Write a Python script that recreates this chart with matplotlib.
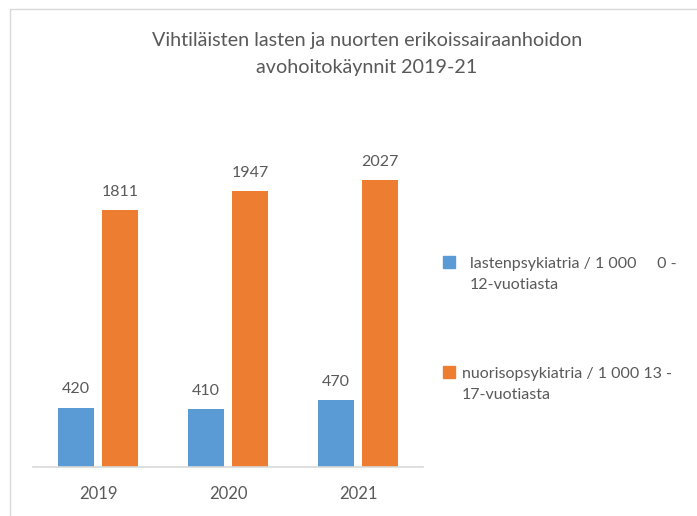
import matplotlib
matplotlib.use("Agg")
import matplotlib.pyplot as plt
from matplotlib.patches import Rectangle
import numpy as np

# Data
vuodet = ["2019", "2020", "2021"]
lastenpsykiatria = [420, 410, 470]
nuorisopsykiatria = [1811, 1947, 2027]
otsikko = "Vihtiläisten lasten ja nuorten erikoissairaanhoidon\navohoitokäynnit 2019-21"
selite_1 = "lastenpsykiatria / 1 000     0 -\n12-vuotiasta"
selite_2 = "nuorisopsykiatria / 1 000 13 -\n17-vuotiasta"

SININEN = "#5B9BD5"
ORANSSI = "#ED7D31"
HARMAA = "#595959"

plt.rcParams['font.family'] = ['Lato', 'DejaVu Sans']

W, H = 697, 516
fig = plt.figure(figsize=(W / 100, H / 100), dpi=100)

# kehys (vaalea reunaviiva ylhäällä ja vasemmalla)
fig.patches.append(Rectangle((10 / W, -0.1), 1.2, 1.1 - 9 / H, transform=fig.transFigure,
                             fill=False, edgecolor="#d9d9d9", linewidth=1))

ax = fig.add_axes([33 / W, 49 / H, 390 / W, 318 / H])
x = np.arange(len(vuodet))
leveys = 0.27
siirto = 0.169

pylvaat1 = ax.bar(x - siirto, lastenpsykiatria, leveys, color=SININEN)
pylvaat2 = ax.bar(x + siirto, nuorisopsykiatria, leveys, color=ORANSSI)

for pylvaat in (pylvaat1, pylvaat2):
    ax.bar_label(pylvaat, padding=8, fontsize=11.5, color=HARMAA)

ax.set_xlim(-0.5, 2.5)
ax.set_ylim(0, 2245)
ax.set_xticks(x)
ax.set_xticklabels(vuodet, fontsize=12, color=HARMAA)
ax.tick_params(axis='x', length=0, pad=14)
ax.set_yticks([])
for s in ("top", "right", "left"):
    ax.spines[s].set_visible(False)
ax.spines["bottom"].set_color("#d9d9d9")
ax.spines["bottom"].set_linewidth(1.2)

fig.text(367 / W, 1 - 54 / H, otsikko, ha="center", va="center", fontsize=14.2,
         color=HARMAA, linespacing=1.7)

# selite
fig.patches.append(Rectangle((443 / W, 1 - 268 / H), 12 / W, 12 / H,
                             transform=fig.transFigure, color=SININEN))
fig.text(470 / W, 1 - 257 / H, selite_1, ha="left", va="top", fontsize=11.5,
         color=HARMAA, linespacing=1.65, transform=fig.transFigure)
fig.patches.append(Rectangle((443 / W, 1 - 378 / H), 12 / W, 12 / H,
                             transform=fig.transFigure, color=ORANSSI))
fig.text(462 / W, 1 - 367 / H, selite_2, ha="left", va="top", fontsize=11.5,
         color=HARMAA, linespacing=1.65, transform=fig.transFigure)

fig.savefig("out.png", dpi=100)
